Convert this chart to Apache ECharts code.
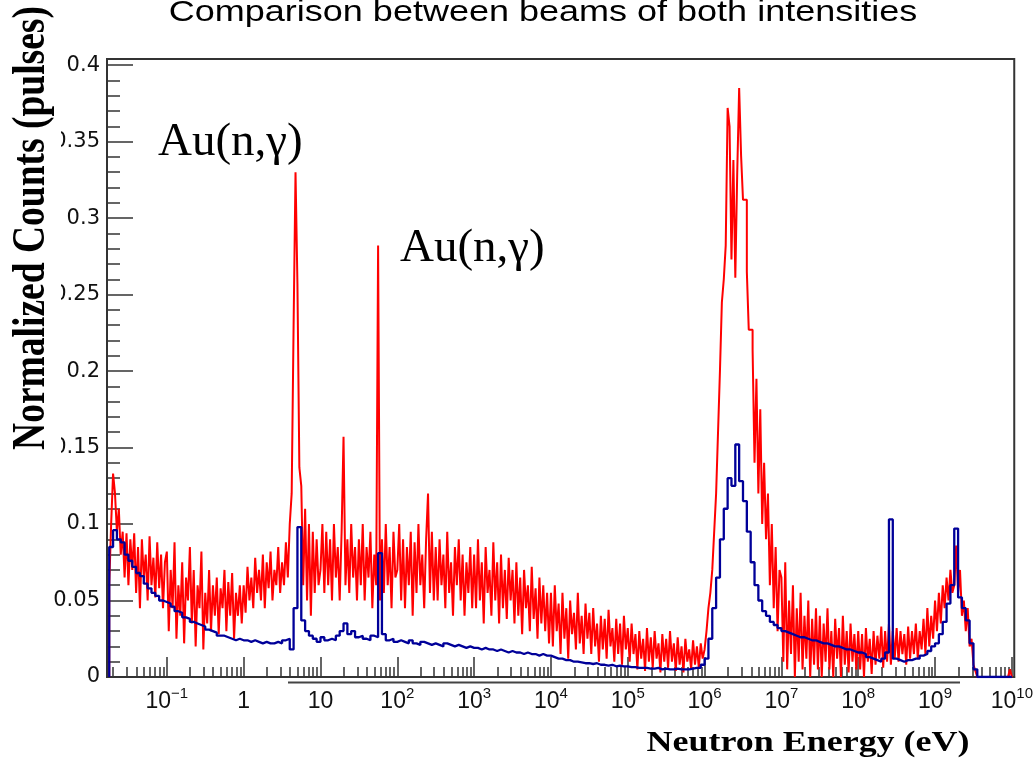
<!DOCTYPE html>
<html>
<head>
<meta charset="utf-8">
<script src="https://cdn.jsdelivr.net/npm/echarts@6/dist/echarts.min.js"></script>
<style>html,body{margin:0;padding:0;background:#fff}#c{width:1036px;height:767px}</style>
</head>
<body>
<div id="c"></div>
<script>
// Histogram binning in log10(E / eV)
const binStart = -1.75;
const redBinWidth = 0.025;
const blueBinWidth = 0.05;

// Red histogram, one value per bin (log10 E step 0.025)
const redCounts = [
  // -1.75 .. -1.525
  0.06, 0.1, 0.133, 0.12, 0.095, 0.11, 0.08, 0.095, 0.065, 0.094,
  // -1.5 .. -1.025
  0.06, 0.09, 0.07, 0.094, 0.055, 0.085, 0.045, 0.09, 0.065, 0.08, 0.05, 0.092, 0.06, 0.078, 0.052, 0.088, 0.058, 0.08, 0.045, 0.075,
  // -1.0 .. -0.525
  0.082, 0.03, 0.07, 0.045, 0.088, 0.025, 0.06, 0.04, 0.075, 0.022, 0.065, 0.05, 0.085, 0.035, 0.07, 0.02, 0.06, 0.045, 0.082, 0.018,
  // -0.5 .. -0.025
  0.055, 0.035, 0.07, 0.03, 0.06, 0.04, 0.065, 0.028, 0.058, 0.045, 0.07, 0.03, 0.062, 0.04, 0.068, 0.025, 0.055, 0.04, 0.06, 0.035,
  // 0 .. 0.475
  0.06, 0.042, 0.072, 0.05, 0.065, 0.045, 0.078, 0.055, 0.07, 0.05, 0.08, 0.045, 0.075, 0.058, 0.082, 0.05, 0.07, 0.06, 0.085, 0.055,
  // 0.5 .. 0.975
  0.075, 0.06, 0.088, 0.065, 0.1, 0.12, 0.23, 0.33, 0.257, 0.137, 0.125, 0.06, 0.11, 0.05, 0.1, 0.04, 0.095, 0.055, 0.09, 0.06,
  // 1.0 .. 1.475
  0.07, 0.1, 0.055, 0.095, 0.06, 0.09, 0.05, 0.1, 0.065, 0.085, 0.05, 0.095, 0.157, 0.06, 0.09, 0.055, 0.1, 0.065, 0.085, 0.05,
  // 1.5 .. 1.975
  0.09, 0.06, 0.1, 0.05, 0.085, 0.065, 0.095, 0.045, 0.08, 0.06, 0.282, 0.05, 0.09, 0.055, 0.1, 0.06, 0.085, 0.045, 0.095, 0.065,
  // 2.0 .. 2.475
  0.07, 0.1, 0.05, 0.09, 0.045, 0.085, 0.06, 0.095, 0.04, 0.088, 0.055, 0.1, 0.06, 0.08, 0.045, 0.09, 0.12, 0.055, 0.095, 0.05,
  // 2.5 .. 2.975
  0.085, 0.05, 0.09, 0.06, 0.08, 0.045, 0.095, 0.055, 0.075, 0.04, 0.085, 0.06, 0.09, 0.05, 0.08, 0.04, 0.075, 0.055, 0.085, 0.045,
  // 3.0 .. 3.475
  0.08, 0.045, 0.09, 0.05, 0.075, 0.035, 0.085, 0.055, 0.07, 0.04, 0.088, 0.05, 0.075, 0.035, 0.08, 0.045, 0.07, 0.038, 0.078, 0.05,
  // 3.5 .. 3.975
  0.07, 0.035, 0.075, 0.04, 0.065, 0.028, 0.07, 0.045, 0.06, 0.03, 0.072, 0.038, 0.058, 0.025, 0.065, 0.035, 0.06, 0.03, 0.055, 0.022,
  // 4.0 .. 4.475
  0.055, 0.02, 0.06, 0.03, 0.048, 0.015, 0.055, 0.025, 0.045, 0.012, 0.05, 0.028, 0.042, 0.018, 0.055, 0.022, 0.04, 0.015, 0.048, 0.025,
  // 4.5 .. 4.975
  0.042, 0.015, 0.045, 0.02, 0.035, 0.01, 0.04, 0.018, 0.038, 0.012, 0.044, 0.02, 0.032, 0.01, 0.038, 0.015, 0.035, 0.008, 0.04, 0.018,
  // 5.0 .. 5.475
  0.032, 0.01, 0.035, 0.015, 0.028, 0.005, 0.03, 0.012, 0.025, 0.004, 0.032, 0.01, 0.026, 0.006, 0.03, 0.012, 0.022, 0.003, 0.028, 0.01,
  // 5.5 .. 5.975
  0.025, 0.006, 0.03, 0.01, 0.022, 0.004, 0.026, 0.008, 0.02, 0.003, 0.025, 0.01, 0.018, 0.005, 0.024, 0.008, 0.02, 0.006, 0.022, 0.012,
  // 6.0 .. 6.475
  0.018, 0.03, 0.045, 0.055, 0.07, 0.095, 0.12, 0.16, 0.2, 0.245, 0.26, 0.282, 0.372, 0.36, 0.273, 0.338, 0.261, 0.33, 0.385, 0.341,
  // 6.5 .. 6.975
  0.312, 0.312, 0.265, 0.227, 0.227, 0.214, 0.14, 0.195, 0.12, 0.175, 0.1, 0.14, 0.09, 0.12, 0.06, 0.1, 0.045, 0.085, 0.03, 0.07,
  // 7.0 .. 7.475
  0.065, 0.01, 0.075, 0.005, 0.05, 0.015, 0.06, 0, 0.045, 0.01, 0.055, 0.005, 0.04, 0.012, 0.05, 0, 0.038, 0.008, 0.045, 0.005,
  // 7.5 .. 7.975
  0.04, 0, 0.035, 0.01, 0.045, 0.005, 0.03, 0, 0.038, 0.012, 0.032, 0, 0.04, 0.008, 0.03, 0.003, 0.035, 0.01, 0.028, 0.005,
  // 8.0 .. 8.475
  0.03, 0.005, 0.028, 0, 0.032, 0.01, 0.025, 0.002, 0.03, 0.008, 0.027, 0.012, 0.033, 0.006, 0.03, 0.01, 0.035, 0.008, 0.03, 0.012,
  // 8.5 .. 8.975
  0.032, 0.01, 0.03, 0.015, 0.028, 0.008, 0.033, 0.012, 0.03, 0.015, 0.035, 0.012, 0.03, 0.018, 0.038, 0.015, 0.045, 0.02, 0.04, 0.025,
  // 9.0 .. 9.475
  0.05, 0.03, 0.055, 0.035, 0.06, 0.045, 0.065, 0.05, 0.07, 0.055, 0.06, 0.086, 0.055, 0.07, 0.04, 0.05, 0.03, 0.045, 0.02, 0.025,
  // 9.5 .. 9.975
  0.008, 0.004, 0, 0, 0, 0, 0, 0, 0, 0, 0, 0, 0, 0, 0, 0, 0, 0, 0, 0.005
];

// Blue histogram, one value per bin (log10 E step 0.05)
const blueCounts = [
  // -1.75 .. -1.05
  0.085, 0.096, 0.09, 0.088, 0.08, 0.076, 0.072, 0.068, 0.066, 0.061, 0.058, 0.055, 0.053, 0.05, 0.049,
  // -1.0 .. -0.05
  0.048, 0.046, 0.043, 0.042, 0.039, 0.038, 0.036, 0.035, 0.034, 0.033, 0.031, 0.03, 0.029, 0.027, 0.027, 0.026, 0.025, 0.024, 0.025, 0.024,
  // 0 .. 0.95
  0.024, 0.023, 0.024, 0.023, 0.022, 0.023, 0.022, 0.022, 0.023, 0.022, 0.024, 0.025, 0.018, 0.045, 0.098, 0.037, 0.03, 0.027, 0.025, 0.023,
  // 1 .. 1.95
  0.026, 0.024, 0.025, 0.024, 0.027, 0.03, 0.035, 0.028, 0.03, 0.026, 0.027, 0.025, 0.024, 0.027, 0.026, 0.081, 0.028, 0.024, 0.025, 0.023,
  // 2 .. 2.95
  0.024, 0.023, 0.022, 0.024, 0.022, 0.021, 0.023, 0.022, 0.021, 0.022, 0.021, 0.02, 0.022, 0.021, 0.02, 0.021, 0.02, 0.019, 0.02, 0.019,
  // 3 .. 3.95
  0.019, 0.018, 0.019, 0.018, 0.018, 0.017, 0.018, 0.017, 0.016, 0.017, 0.016, 0.016, 0.015, 0.016, 0.015, 0.015, 0.014, 0.015, 0.014, 0.014,
  // 4 .. 4.95
  0.013, 0.012, 0.012, 0.011, 0.011, 0.01, 0.01, 0.0095, 0.009, 0.009, 0.0085, 0.009, 0.008, 0.008, 0.0075, 0.008, 0.007, 0.0075, 0.007, 0.007,
  // 5 .. 5.95
  0.0065, 0.0065, 0.006, 0.006, 0.006, 0.0055, 0.0055, 0.006, 0.005, 0.0055, 0.005, 0.005, 0.0055, 0.005, 0.005, 0.005, 0.0055, 0.006, 0.006, 0.008,
  // 6 .. 6.95
  0.012, 0.025, 0.045, 0.065, 0.09, 0.11, 0.13, 0.125, 0.152, 0.128, 0.115, 0.095, 0.075, 0.06, 0.05, 0.043, 0.04, 0.036, 0.034, 0.032,
  // 7 .. 7.95
  0.03, 0.029, 0.028, 0.027, 0.026, 0.026, 0.025, 0.024, 0.024, 0.023, 0.022, 0.022, 0.021, 0.02, 0.02, 0.019, 0.018, 0.018, 0.017, 0.016,
  // 8 .. 8.95
  0.016, 0.015, 0.013, 0.012, 0.011, 0.01, 0.012, 0.016, 0.103, 0.012, 0.011, 0.01, 0.011, 0.011, 0.012, 0.012, 0.014, 0.015, 0.017, 0.02,
  // 9 .. 9.95
  0.022, 0.028, 0.036, 0.048, 0.06, 0.097, 0.052, 0.045, 0.037, 0.022, 0.005, 0, 0, 0, 0, 0, 0, 0, 0, 0
];

// Axis ticks and labels
const majorExps = [-1, 0, 1, 2, 3, 4, 5, 6, 7, 8, 9, 10];
const minorFactors = [2, 3, 4, 5, 6, 7, 8, 9];
const yTicks = [0, 0.05, 0.1, 0.15, 0.2, 0.25, 0.3, 0.35, 0.4];
const yMinorStep = 0.01;

const titleText = 'Comparison between beams of both intensities';
const xTitle = 'Neutron Energy (eV)';
const yTitle = 'Normalized Counts (pulses)';
const annotation = 'Au(n,\u03B3)';

function toSteps(vals, width) {
  const pts = [[binStart, 0]];
  for (let i = 0; i < vals.length; i++) pts.push([binStart + i * width, vals[i]]);
  const end = binStart + vals.length * width;
  pts.push([end, vals[vals.length - 1]]);
  pts.push([end, 0]);
  return pts;
}

const xMin = -1.779, xMax = 10.031, yMax = 0.404;

const minorX = [];
for (let n = -2; n <= 10; n++) {
  for (const k of minorFactors) {
    const v = n + Math.log10(k);
    if (v > xMin && v < xMax) minorX.push(v);
  }
}
const minorY = [];
for (let j = 1; j * yMinorStep < yMax; j++) {
  if (j % 5 !== 0) minorY.push(j * yMinorStep);
}

function xLabel(v) {
  const n = Math.round(v);
  if (n === 0) return '{b|1}';
  if (n === 1) return '{b|10}';
  return '{b|10}{s|' + (n < 0 ? '\u2212' + (-n) : n) + '}';
}

const gridPos = { left: 107, right: 21, top: 59, bottom: 90 };
const axisColor = '#333';
const font = '"Liberation Sans", Arial, Helvetica, sans-serif';
const yFont = '"DejaVu Sans", sans-serif';
const serif = '"Liberation Serif", "Times New Roman", serif';

const chart = echarts.init(document.getElementById('c'), null, { renderer: 'canvas' });
chart.setOption({
  animation: false,
  backgroundColor: '#fff',
  grid: [
    Object.assign({ show: true, borderColor: axisColor, borderWidth: 2, backgroundColor: 'transparent' }, gridPos),
    Object.assign({ show: false }, gridPos)
  ],
  xAxis: [
    {
      type: 'value', gridIndex: 0, min: xMin, max: xMax, position: 'bottom',
      axisLine: { show: true, onZero: false, lineStyle: { color: axisColor, width: 2 } },
      axisTick: { show: true, inside: true, length: 20, customValues: majorExps, lineStyle: { color: axisColor, width: 1.5 } },
      axisLabel: {
        show: true, customValues: majorExps, margin: 9, formatter: xLabel,
        rich: {
          b: { fontSize: 23, fontFamily: font, color: '#111', lineHeight: 27, verticalAlign: 'bottom' },
          s: { fontSize: 15, fontFamily: font, color: '#111', lineHeight: 15, verticalAlign: 'top' }
        }
      },
      splitLine: { show: false }
    },
    {
      type: 'value', gridIndex: 1, min: xMin, max: xMax, position: 'bottom',
      axisLine: { show: false, onZero: false },
      axisTick: { show: true, inside: true, length: 10, customValues: minorX, lineStyle: { color: axisColor, width: 1.5 } },
      axisLabel: { show: false },
      splitLine: { show: false }
    }
  ],
  yAxis: [
    {
      type: 'value', gridIndex: 0, min: 0, max: yMax,
      axisLine: { show: true, onZero: false, lineStyle: { color: axisColor, width: 2 } },
      axisTick: { show: true, inside: true, length: 26, customValues: yTicks, lineStyle: { color: axisColor, width: 1.5 } },
      axisLabel: {
        show: true, customValues: yTicks, margin: 7, fontSize: 21, fontFamily: yFont, color: '#111',
        formatter: v => String(+(+v).toFixed(2))
      },
      splitLine: { show: false }
    },
    {
      type: 'value', gridIndex: 1, min: 0, max: yMax,
      axisLine: { show: false, onZero: false },
      axisTick: { show: true, inside: true, length: 13, customValues: minorY, lineStyle: { color: axisColor, width: 1.5 } },
      axisLabel: { show: false },
      splitLine: { show: false }
    }
  ],
  series: [
    {
      type: 'line', xAxisIndex: 0, yAxisIndex: 0, step: 'end', showSymbol: false, silent: true,
      data: toSteps(redCounts, redBinWidth), lineStyle: { color: '#ff0000', width: 2 }, z: 3
    },
    {
      type: 'line', xAxisIndex: 0, yAxisIndex: 0, step: 'end', showSymbol: false, silent: true,
      data: toSteps(blueCounts, blueBinWidth), lineStyle: { color: '#000099', width: 2.3 }, z: 4
    }
  ],
  graphic: [
    { type: 'line', z: 50, shape: { x1: 288, y1: 682.5, x2: 960, y2: 682.5 }, style: { stroke: '#444', lineWidth: 2 } },
    { type: 'text', z: 60, x: 543, y: 13, scaleX: 1.2,
      style: { text: titleText, font: '30px ' + font, fill: '#000', textAlign: 'center', textVerticalAlign: 'middle', align: 'center', verticalAlign: 'middle' } },
    { type: 'text', z: 60, x: 808, y: 743.5, scaleX: 1.24,
      style: { text: xTitle, font: 'bold 29px ' + serif, fill: '#000', textAlign: 'center', textVerticalAlign: 'middle', align: 'center', verticalAlign: 'middle' } },
    { type: 'rect', z: 100, shape: { x: 0, y: 0, width: 61, height: 458 }, style: { fill: '#fff' } },
    { type: 'text', z: 101, x: 32, y: 228, rotation: Math.PI / 2, scaleY: 1.24,
      style: { text: yTitle, font: 'bold 37.5px ' + serif, fill: '#000', textAlign: 'center', textVerticalAlign: 'middle', align: 'center', verticalAlign: 'middle' } },
    { type: 'text', z: 60, x: 158, y: 143,
      style: { text: annotation, font: '47px ' + serif, fill: '#000', textAlign: 'left', textVerticalAlign: 'middle', align: 'left', verticalAlign: 'middle' } },
    { type: 'text', z: 60, x: 400, y: 249,
      style: { text: annotation, font: '47px ' + serif, fill: '#000', textAlign: 'left', textVerticalAlign: 'middle', align: 'left', verticalAlign: 'middle' } }
  ]
});
</script>
</body>
</html>
